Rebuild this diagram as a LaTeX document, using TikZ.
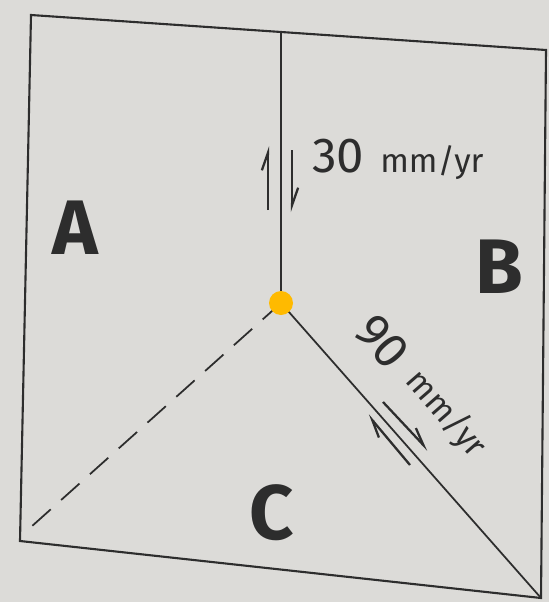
\documentclass[tikz,border=0pt]{standalone}
\usepackage{fontspec}
\setmainfont{Fira Sans}
\usetikzlibrary{arrows.meta}
\definecolor{paper}{RGB}{220,219,216}
\definecolor{ink}{RGB}{45,45,45}
\definecolor{dotcol}{RGB}{255,186,0}
\tikzset{
  edge/.style={draw=ink, line width=1.2pt},
  fault/.style={draw=ink, line width=1.0pt},
  harp/.style={draw=ink, line width=1.3pt, -{Straight Barb[harpoon,length=10pt,width=7pt]}},
  plate/.style={font=\fontsize{44}{48}\selectfont\bfseries, text=ink, inner sep=0pt},
  rate/.style={text=ink, inner sep=0pt}
}
\begin{document}
\begin{tikzpicture}[x=0.02cm, y=-0.02cm]
\useasboundingbox (0,0) rectangle (549,602);
\fill[paper] (0,0) rectangle (549,602);
% corners
\coordinate (tl) at (31,15);
\coordinate (tr) at (546,50);
\coordinate (br) at (541,598);
\coordinate (bl) at (20,541);
\coordinate (ft) at (281,32);
\coordinate (tj) at (281,303);
\coordinate (de) at (31,527);
% frame
\draw[edge] (tl) -- (tr) -- (br) -- (bl) -- cycle;
% faults
\draw[fault] (ft) -- (tj);
\draw[fault] (tj) -- (br);
\draw[fault, dash pattern=on 14pt off 8pt] (tj) -- (de);
% triple junction
\fill[dotcol] (tj) circle (12);
% plate labels
\node[plate] (A) at (75,228) {A};
\node[plate] (B) at (499,267) {B};
\node[plate] (C) at (272,513) {C};
% rate 30
\coordinate (a1s) at (268,210);
\coordinate (a1e) at (268,146);
\coordinate (a2s) at (292,150);
\coordinate (a2e) at (292,212);
\draw[harp] (a1s) -- (a1e);
\draw[harp] (a2s) -- (a2e);
\node[rate, anchor=base west, font=\fontsize{28}{30}\selectfont] (n30) at (312,172) {30};
\node[rate, anchor=base west, font=\fontsize{19}{22}\selectfont] (u30) at (380,172) {mm/yr};
% rate 90
\node[rate, rotate=-49, font=\fontsize{28}{30}\selectfont] (n90) at (382,342) {90};
\node[rate, rotate=-49, font=\fontsize{19}{22}\selectfont] (u90) at (446,414) {mm/yr};
\coordinate (b1s) at (410,465);
\coordinate (b1e) at (368,415);
\coordinate (b2s) at (383,402);
\coordinate (b2e) at (428,450);
\draw[harp] (b1s) -- (b1e);
\draw[harp] (b2s) -- (b2e);
\end{tikzpicture}
\end{document}
